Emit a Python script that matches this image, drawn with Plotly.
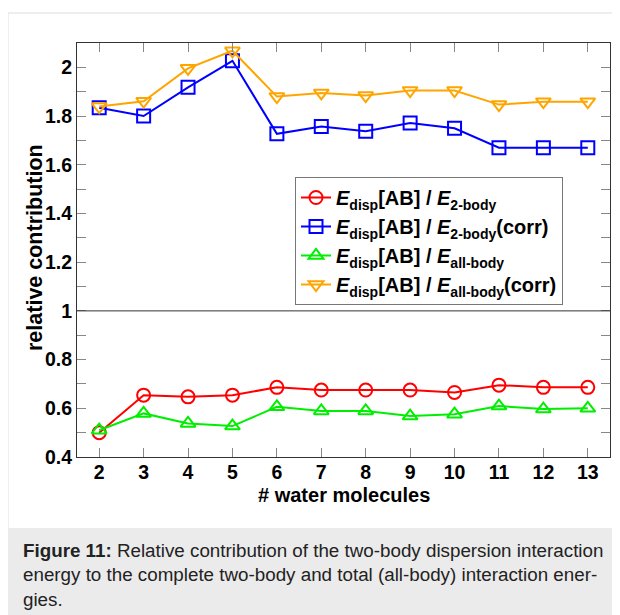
import plotly.graph_objects as go

n_water = [2, 3, 4, 5, 6, 7, 8, 9, 10, 11, 12, 13]
e2body = [0.50, 0.654, 0.647, 0.654, 0.686, 0.675, 0.675, 0.675, 0.665, 0.695, 0.686, 0.686]
e2body_corr = [1.834, 1.80, 1.918, 2.027, 1.727, 1.757, 1.738, 1.771, 1.75, 1.67, 1.67, 1.67]
eall = [0.51, 0.579, 0.538, 0.527, 0.606, 0.589, 0.589, 0.568, 0.576, 0.609, 0.597, 0.60]
eall_corr = [1.839, 1.861, 1.996, 2.068, 1.88, 1.895, 1.884, 1.905, 1.905, 1.847, 1.859, 1.859]

names = [
    "<i>E</i><sub>disp</sub>[AB] / <i>E</i><sub>2-body</sub>",
    "<i>E</i><sub>disp</sub>[AB] / <i>E</i><sub>2-body</sub>(corr)",
    "<i>E</i><sub>disp</sub>[AB] / <i>E</i><sub>all-body</sub>",
    "<i>E</i><sub>disp</sub>[AB] / <i>E</i><sub>all-body</sub>(corr)",
]
series = [e2body, e2body_corr, eall, eall_corr]
colors = ["#ff0000", "#0000ff", "#00ee00", "#ffa500"]
symbols = ["circle-open", "square-open", "triangle-up-open", "triangle-down-open"]

y_tickvals = [0.4, 0.6, 0.8, 1, 1.2, 1.4, 1.6, 1.8, 2]
y_ticktext = ["0.4", "0.6", "0.8", "1", "1.2", "1.4", "1.6", "1.8", "2"]
y_minorvals = [0.5, 0.7, 0.9, 1.1, 1.3, 1.5, 1.7, 1.9]

# page is rendered with an 8px body margin: figure origin sits at page (8, 8)
OFF = 8
W, H = 620 - OFF, 615 - OFF
L, R, T, B = 77 - OFF, 10, 43 - OFF, 158
pw, ph = W - L - R, H - T - B

def px(x):  # page x -> paper
    return (x - OFF - L) / pw

def py(y):  # page y -> paper
    return (H - B - (y - OFF)) / ph

fig = go.Figure()
for name, ys, c, s in zip(names, series, colors, symbols):
    fig.add_trace(go.Scatter(
        x=n_water, y=ys, name=name, mode="lines+markers",
        line=dict(color=c, width=2),
        marker=dict(symbol=s, size=13, color=c, line=dict(color=c, width=2)),
    ))

FAM = "Liberation Sans, Arial, sans-serif"
font_b = dict(family=FAM, size=19.5, color="black", weight="bold")

fig.update_layout(
    width=W, height=H,
    margin=dict(l=L, r=R, t=T, b=B, autoexpand=False),
    paper_bgcolor="white", plot_bgcolor="white",
    showlegend=True,
    legend=dict(
        x=px(295), y=py(177), xanchor="left", yanchor="top",
        bgcolor="white", bordercolor="#777", borderwidth=1,
        font=dict(family=FAM, size=20, color="black", weight="bold"),
        tracegroupgap=0, itemwidth=30,
    ),
    xaxis=dict(
        range=[1.5, 13.5], tickvals=n_water, ticks="inside", ticklen=9,
        tickcolor="#888", tickwidth=1, showline=True, linecolor="#333", linewidth=1,
        mirror="allticks", showgrid=False, zeroline=False, tickfont=font_b,
        automargin=False, ticklabelstandoff=-2,
    ),
    yaxis=dict(
        range=[0.4, 2.1], tickvals=y_tickvals, ticktext=y_ticktext,
        ticks="inside", ticklen=9, tickcolor="#888", tickwidth=1,
        minor=dict(tickvals=y_minorvals, ticks="inside",
                   ticklen=9, tickcolor="#888", tickwidth=1),
        showline=True, linecolor="#333", linewidth=1, mirror="allticks",
        showgrid=False, zeroline=False, tickfont=font_b, automargin=False,
    ),
)

# axis titles
fig.add_annotation(xref="paper", yref="paper", x=0.5, y=py(495), xanchor="center", yanchor="middle",
                   showarrow=False, text="# water molecules", font=dict(font_b, size=20))
fig.add_annotation(xref="paper", yref="paper", x=px(35), y=py(248), xanchor="center", yanchor="middle",
                   showarrow=False, textangle=-90, text="relative contribution", font=dict(font_b, size=21.5))

# horizontal reference line at 1
fig.add_shape(type="line", xref="paper", yref="y", x0=0, x1=1, y0=1, y1=1,
              line=dict(color="#333", width=1))

# page frame and caption panel
fig.add_shape(type="rect", xref="paper", yref="paper", x0=px(8), x1=px(630), y0=py(630), y1=py(13),
              line=dict(color="#dddddd", width=1), fillcolor="rgba(0,0,0,0)", layer="below")
fig.add_shape(type="rect", xref="paper", yref="paper", x0=px(8), x1=px(630), y0=py(630), y1=py(528),
              line=dict(width=0), fillcolor="#ebebeb", layer="below")

fig.add_annotation(
    xref="paper", yref="paper", x=px(21), y=py(538), xanchor="left", yanchor="top",
    align="left", showarrow=False,
    text=("<b>Figure 11:</b> Relative contribution of the two-body dispersion interaction<br>"
          "energy to the complete two-body and total (all-body) interaction ener-<br>gies."),
    font=dict(family=FAM, size=18.8, color="#222"),
)

fig.write_html("out.html")
